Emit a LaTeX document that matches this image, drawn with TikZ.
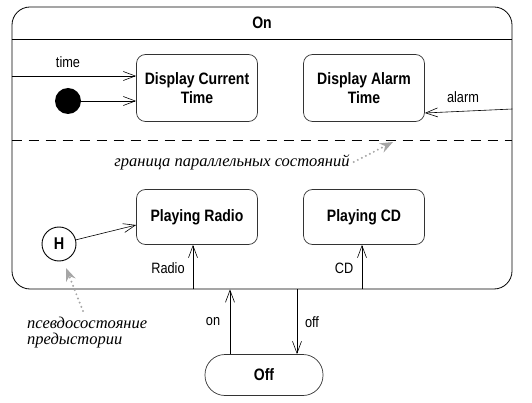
\documentclass[tikz,border=0pt]{standalone}
\usepackage{fontspec}
\setmainfont{Liberation Sans}[FakeStretch=0.85]
\newfontfamily\notefont{Liberation Serif}
\usetikzlibrary{arrows.meta}

\begin{document}
\begin{tikzpicture}
		[x=1pt,y=-1pt,
		 state/.style={draw=black!80,line width=0.7pt,rounded corners=9pt,minimum width=121pt,align=center,font=\fontsize{16.5}{19}\selectfont\bfseries},
		 edge/.style={-{Straight Barb[length=12pt,width=9pt]},line width=0.6pt},
		 lbl/.style={font=\fontsize{15}{17}\selectfont,inner sep=0pt},
		 note/.style={font=\fontsize{16.5}{16}\selectfont\notefont\itshape,align=left,inner sep=0pt},
		 pointer/.style={-{Stealth[length=13pt,width=10pt]},draw=black!35,line width=2.2pt,line cap=round,dash pattern=on 0pt off 4.5pt}]
		\useasboundingbox (0,0) rectangle (532,403);
		% composite state
		\node[draw,rounded corners=18pt,minimum width=500pt,minimum height=282pt,line width=0.8pt] (on) at (262,148) {};
		\node[lbl,font=\fontsize{16.5}{17}\selectfont\bfseries] (ontitle) at (262,23) {On};
		\draw[line width=0.7pt] (on.west |- 0,39) -- (on.east |- 0,39);
		\draw[line width=0.8pt,dash pattern=on 10pt off 7pt] (on.west |- 0,140) -- (on.east |- 0,140);
		
		\node[state,minimum height=67pt] (dct) at (197,88) {Display Current\\Time};
		\node[state,minimum height=67pt] (dat) at (364,88) {Display Alarm\\Time};
		\node[state,minimum height=55pt] (pr) at (197,217) {Playing Radio};
		\node[state,minimum height=55pt] (pc) at (364,217) {Playing CD};
		\node[state,rounded corners=20pt,minimum width=118pt,minimum height=41pt] (off) at (264,375) {Off};
		
		\node[circle,fill=black,minimum size=26pt,inner sep=0pt] (init) at (68,101) {};
		\node[circle,draw,line width=0.9pt,minimum size=34pt,inner sep=0pt,font=\fontsize{17}{17}\selectfont\bfseries] (hist) at (59,244) {H};
		
		\coordinate (timein) at (on.west |- 0,76);
		\coordinate (alarmin) at (on.east |- 0,109);
		
		\draw[edge] (timein) -- (dct.west |- timein);
		\draw[edge] (init) -- (dct.west |- init);
		\draw[edge] (alarmin) -- (dat.east |- 0,113);
		\draw[edge] (hist) -- (pr.west |- 0,225);
		\draw[edge] (193,0 |- on.south) -- (193,0 |- pr.south);
		\draw[edge] (362,0 |- on.south) -- (362,0 |- pc.south);
		\draw[edge] (230,0 |- off.north) -- (230,0 |- on.south);
		\draw[edge] (297,0 |- on.south) -- (297,0 |- off.north);
		
		\node[lbl] (ltime) at (68,62) {time};
		\node[lbl] (lalarm) at (463,97) {alarm};
		\node[lbl] (lradio) at (168,268) {Radio};
		\node[lbl] (lcd) at (344,268) {CD};
		\node[lbl] (lon) at (213,322) {on};
		\node[lbl] (loff) at (312,322) {off};
		
		% comments
		\node[note] (notepar) at (232,162) {граница параллельных состояний};
		\node[note,anchor=north west] (notehist) at (27,317) {псевдосостояние\\предыстории};
		\coordinate (partip) at (393,142);
		\coordinate (histtip) at (66,268);
		\draw[pointer] ([xshift=4pt]notepar.east) -- (partip);
		\draw[pointer] (83,311) -- (histtip);
\end{tikzpicture}
\end{document}
